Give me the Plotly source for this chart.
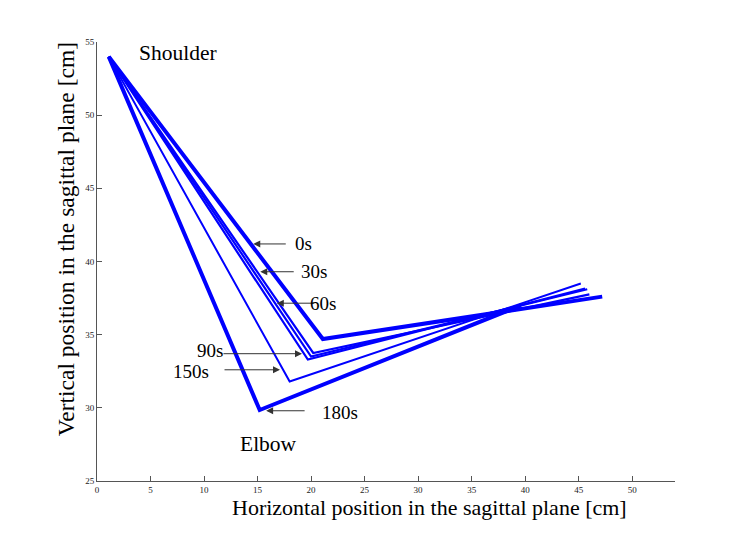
import plotly.graph_objects as go

# Arm configurations: shoulder -> elbow -> hand, at each time
labels = ["0s", "30s", "60s", "90s", "150s", "180s"]
shoulder_x = [1.1, 1.1, 1.1, 1.1, 1.1, 1.1]
shoulder_y = [54.0, 54.0, 54.0, 54.0, 54.0, 54.0]
elbow_x = [21.1, 20.2, 20.0, 19.7, 18.0, 15.2]
elbow_y = [34.7, 33.75, 33.5, 33.3, 31.8, 29.85]
hand_x = [47.2, 46.0, 45.8, 45.6, 45.2, 39.6]
hand_y = [37.6, 37.75, 38.1, 38.15, 38.5, 37.0]
widths = [4, 2.2, 2.2, 2.2, 2, 4]

# Arrow labels: head position (data), tail offset (px), text position (data)
ann_text = ["0s", "30s", "60s", "90s", "150s", "180s"]
head_x = [14.6, 15.25, 16.8, 19.15, 17.1, 15.8]
head_y = [41.2, 39.3, 37.15, 33.7, 32.6, 29.8]
tail_dx = [34, 35, 39, -80, -57, 40]
text_x = [19.3, 20.3, 21.1, 10.6, 8.8, 22.7]
text_y = [41.2, 39.3, 37.1, 33.9, 32.5, 29.7]

x_title = "Horizontal position in the sagittal plane [cm]"
y_title = "Vertical position in the sagittal plane [cm]"

FONT = "Liberation Serif"
BLUE = "#0000ff"

fig = go.Figure()
for i in range(len(labels)):
    fig.add_trace(go.Scatter(
        x=[shoulder_x[i], elbow_x[i], hand_x[i]],
        y=[shoulder_y[i], elbow_y[i], hand_y[i]],
        mode="lines", line=dict(color=BLUE, width=widths[i]),
        name=labels[i], showlegend=False, hoverinfo="skip"))

annotations = []
for i in range(len(ann_text)):
    annotations.append(dict(
        x=head_x[i], y=head_y[i], xref="x", yref="y", text="",
        showarrow=True, ax=tail_dx[i], ay=0, arrowhead=2, arrowsize=1.4,
        arrowwidth=1, arrowcolor="#333333"))
    annotations.append(dict(
        x=text_x[i], y=text_y[i], xref="x", yref="y", text=ann_text[i],
        showarrow=False, font=dict(family=FONT, size=19, color="black")))
annotations.append(dict(x=7.6, y=54.25, xref="x", yref="y", text="Shoulder",
                        showarrow=False, font=dict(family=FONT, size=21.5, color="black")))
annotations.append(dict(x=16.0, y=27.5, xref="x", yref="y", text="Elbow",
                        showarrow=False, font=dict(family=FONT, size=21.5, color="black")))
annotations.append(dict(x=0.576, y=-0.0615, xref="paper", yref="paper", text=x_title,
                        showarrow=False, xanchor="center", yanchor="middle",
                        font=dict(family=FONT, size=22, color="black")))
annotations.append(dict(x=-0.0536, y=0.551, xref="paper", yref="paper", text=y_title,
                        showarrow=False, xanchor="center", yanchor="middle", textangle=-90,
                        font=dict(family=FONT, size=23.5, color="black")))

fig.update_layout(
    width=747, height=540,
    margin=dict(l=89, r=80, t=34, b=67),
    paper_bgcolor="white", plot_bgcolor="white",
    font=dict(family=FONT, color="black"),
    annotations=annotations,
    xaxis=dict(range=[0, 54], tickvals=[0, 5, 10, 15, 20, 25, 30, 35, 40, 45, 50],
               ticks="inside", ticklen=5, tickcolor="#555", showgrid=False,
               zeroline=False, showline=True, linecolor="#555", linewidth=1,
               automargin=False,
               tickfont=dict(family=FONT, size=9, color="#222")),
    yaxis=dict(range=[25, 55], tickvals=[25, 30, 35, 40, 45, 50, 55],
               ticks="inside", ticklen=5, tickcolor="#555", showgrid=False,
               zeroline=False, showline=True, linecolor="#555", linewidth=1,
               automargin=False,
               tickfont=dict(family=FONT, size=9, color="#222")),
)
fig.write_html("out.html")
